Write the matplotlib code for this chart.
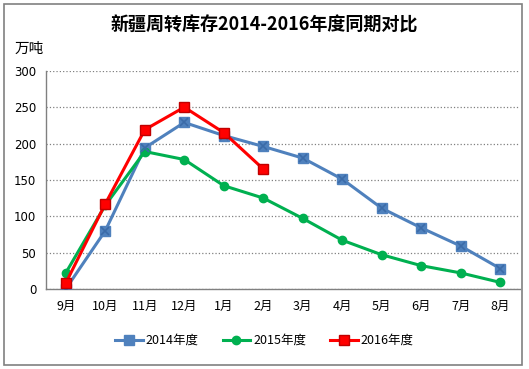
import matplotlib.pyplot as plt
from matplotlib.patches import Rectangle

plt.rcParams['font.family'] = ['Noto Sans CJK SC', 'DejaVu Sans']

# 数据
months = ["9月", "10月", "11月", "12月", "1月", "2月", "3月", "4月", "5月", "6月", "7月", "8月"]
y2014 = [0, 80, 194, 229, 211, 196, 180, 151, 111, 84, 59, 28]
y2015 = [22, 115, 189, 178, 142, 125, 97, 67, 47, 32, 22, 9]
y2016 = [8, 117, 219, 250, 215, 165]
yticks = [0, 50, 100, 150, 200, 250, 300]

fig = plt.figure(figsize=(5.29, 3.69), dpi=100)
ax = fig.add_axes([0.087, 0.217, 0.896, 0.591])

x = list(range(len(months)))
ax.plot(x, y2014, color="#4F81BD", linewidth=2.2, marker="s", markersize=6.5,
        markerfacecolor="#4F81BD", markeredgecolor="#4F81BD", label="2014年度", zorder=3)
ax.plot(x, y2014, linestyle="none", marker="x", markersize=5.5, markeredgewidth=1.2,
        color="#3B6BA8", zorder=4)
ax.plot(x, y2015, color="#00B050", linewidth=2.2, marker="o", markersize=6,
        markerfacecolor="#00B050", markeredgecolor="#00B050", label="2015年度", zorder=3)
ax.plot(x[:len(y2016)], y2016, color="#FF0000", linewidth=2.2, marker="s", markersize=6.5,
        markerfacecolor="#FF0000", markeredgecolor="#C00000", label="2016年度", zorder=5)

ax.set_xlim(-0.5, len(months) - 0.5)
ax.set_ylim(0, 300)
ax.set_xticks(x)
ax.set_xticklabels(months, fontsize=9)
ax.set_yticks(yticks)
ax.set_yticklabels([str(v) for v in yticks], fontsize=8.5, family='DejaVu Sans')
ax.tick_params(axis='x', length=0, pad=8)
ax.tick_params(axis='y', length=0, pad=7)
ax.grid(axis='y', linestyle=':', color='#808080', linewidth=0.9)
ax.set_axisbelow(True)
for s in ['top', 'right']:
    ax.spines[s].set_visible(False)
for s in ['left', 'bottom']:
    ax.spines[s].set_color('#808080')
    ax.spines[s].set_linewidth(1.0)

fig.text(0.5, 0.932, "新疆周转库存2014-2016年度同期对比", ha='center', va='center',
         fontsize=13, fontweight='bold')
fig.text(0.028, 0.868, "万吨", ha='left', va='center', fontsize=10.5)

leg = fig.legend(loc='center', bbox_to_anchor=(0.5, 0.077), ncol=3, frameon=False,
                 fontsize=9, handlelength=2.2, columnspacing=1.9, handletextpad=0.25)

fig.patches.append(Rectangle((4 / 529, 4 / 369), 518 / 529, 361 / 369, transform=fig.transFigure,
                             fill=False, edgecolor='#808080', linewidth=1.2))

fig.savefig("out.png", dpi=100)
